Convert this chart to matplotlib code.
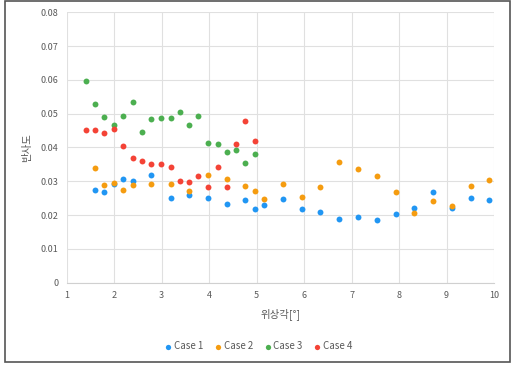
import matplotlib
matplotlib.use("Agg")
import matplotlib.pyplot as plt
from matplotlib.patches import Rectangle

plt.rcParams['font.family'] = ['Noto Sans CJK KR', 'DejaVu Sans']

x1 = [1.59, 1.79, 1.99, 2.19, 2.39, 2.78, 3.19, 3.58, 3.97, 4.37, 4.76, 4.96, 5.16, 5.56,
      5.95, 6.34, 6.74, 7.13, 7.53, 7.93, 8.32, 8.72, 9.11, 9.51, 9.90]
y1 = [0.0274, 0.0267, 0.0293, 0.0308, 0.0301, 0.0320, 0.0251, 0.0258, 0.0252, 0.0232, 0.0245,
      0.0218, 0.0231, 0.0249, 0.0218, 0.0210, 0.0189, 0.0193, 0.0186, 0.0204, 0.0221, 0.0267,
      0.0221, 0.0250, 0.0246]

x2 = [1.59, 1.79, 1.99, 2.19, 2.39, 2.78, 3.19, 3.58, 3.97, 4.37, 4.76, 4.96, 5.16, 5.56,
      5.95, 6.34, 6.74, 7.13, 7.53, 7.93, 8.32, 8.72, 9.11, 9.51, 9.90]
y2 = [0.0340, 0.0289, 0.0296, 0.0275, 0.0288, 0.0291, 0.0293, 0.0271, 0.0319, 0.0307, 0.0286,
      0.0272, 0.0248, 0.0292, 0.0254, 0.0283, 0.0358, 0.0337, 0.0316, 0.0267, 0.0207, 0.0241,
      0.0226, 0.0285, 0.0305]

x3 = [1.40, 1.59, 1.79, 1.99, 2.19, 2.39, 2.59, 2.78, 2.98, 3.19, 3.38, 3.58, 3.77, 3.97,
      4.18, 4.37, 4.57, 4.76, 4.96]
y3 = [0.0598, 0.0528, 0.0489, 0.0467, 0.0494, 0.0536, 0.0446, 0.0484, 0.0488, 0.0487, 0.0505,
      0.0468, 0.0494, 0.0413, 0.0409, 0.0388, 0.0392, 0.0355, 0.0380]

x4 = [1.40, 1.59, 1.79, 1.99, 2.19, 2.39, 2.59, 2.78, 2.98, 3.19, 3.38, 3.58, 3.77, 3.97,
      4.18, 4.37, 4.57, 4.76, 4.96]
y4 = [0.0452, 0.0451, 0.0443, 0.0456, 0.0403, 0.0368, 0.0360, 0.0352, 0.0350, 0.0341, 0.0301,
      0.0299, 0.0315, 0.0284, 0.0343, 0.0284, 0.0409, 0.0479, 0.0420]

series = [("Case 1", x1, y1, "#2196F3"),
          ("Case 2", x2, y2, "#F59C10"),
          ("Case 3", x3, y3, "#4CAF50"),
          ("Case 4", x4, y4, "#F44336")]

xticks = [1, 2, 3, 4, 5, 6, 7, 8, 9, 10]
yticks = [0, 0.01, 0.02, 0.03, 0.04, 0.05, 0.06, 0.07, 0.08]
ytick_labels = ["0", "0.01", "0.02", "0.03", "0.04", "0.05", "0.06", "0.07", "0.08"]

fig = plt.figure(figsize=(5.19, 3.69), dpi=100)
ax = fig.add_axes([0.1287, 0.2339, 0.9518 - 0.1287, 0.9667 - 0.2339])

for name, xs, ys, c in series:
    ax.scatter(xs, ys, s=18, color=c, label=name, zorder=3, linewidths=0)

ax.set_xlim(1, 10)
ax.set_ylim(0, 0.08)
ax.set_xticks(xticks)
ax.set_xticklabels([str(t) for t in xticks])
ax.set_yticks(yticks)
ax.set_yticklabels(ytick_labels)
ax.grid(True, color="#e0e0e0", linewidth=0.8, zorder=0)
for s in ["top", "right", "left"]:
    ax.spines[s].set_visible(False)
ax.spines["bottom"].set_color("#d0d0d0")
ax.tick_params(axis="both", length=0, labelsize=6.5, colors="#595959", pad=6)

ax.set_xlabel("위상각[°]", fontsize=7.5, color="#595959", labelpad=6)
ax.set_ylabel("반사도", fontsize=7.5, color="#595959", labelpad=6)

leg = fig.legend(loc="center", bbox_to_anchor=(0.497, 0.062), ncol=4, frameon=False,
                 fontsize=7, handletextpad=0.1, columnspacing=1.0, markerscale=0.9,
                 handlelength=1.0)
for t in leg.get_texts():
    t.set_color("#595959")

fig.patches.append(Rectangle((5 / 519, 1 - 362 / 369), (510 - 5) / 519, (362 - 1) / 369,
                             transform=fig.transFigure, fill=False, edgecolor="#555555",
                             linewidth=1.2))

fig.savefig("out.png", dpi=100)
